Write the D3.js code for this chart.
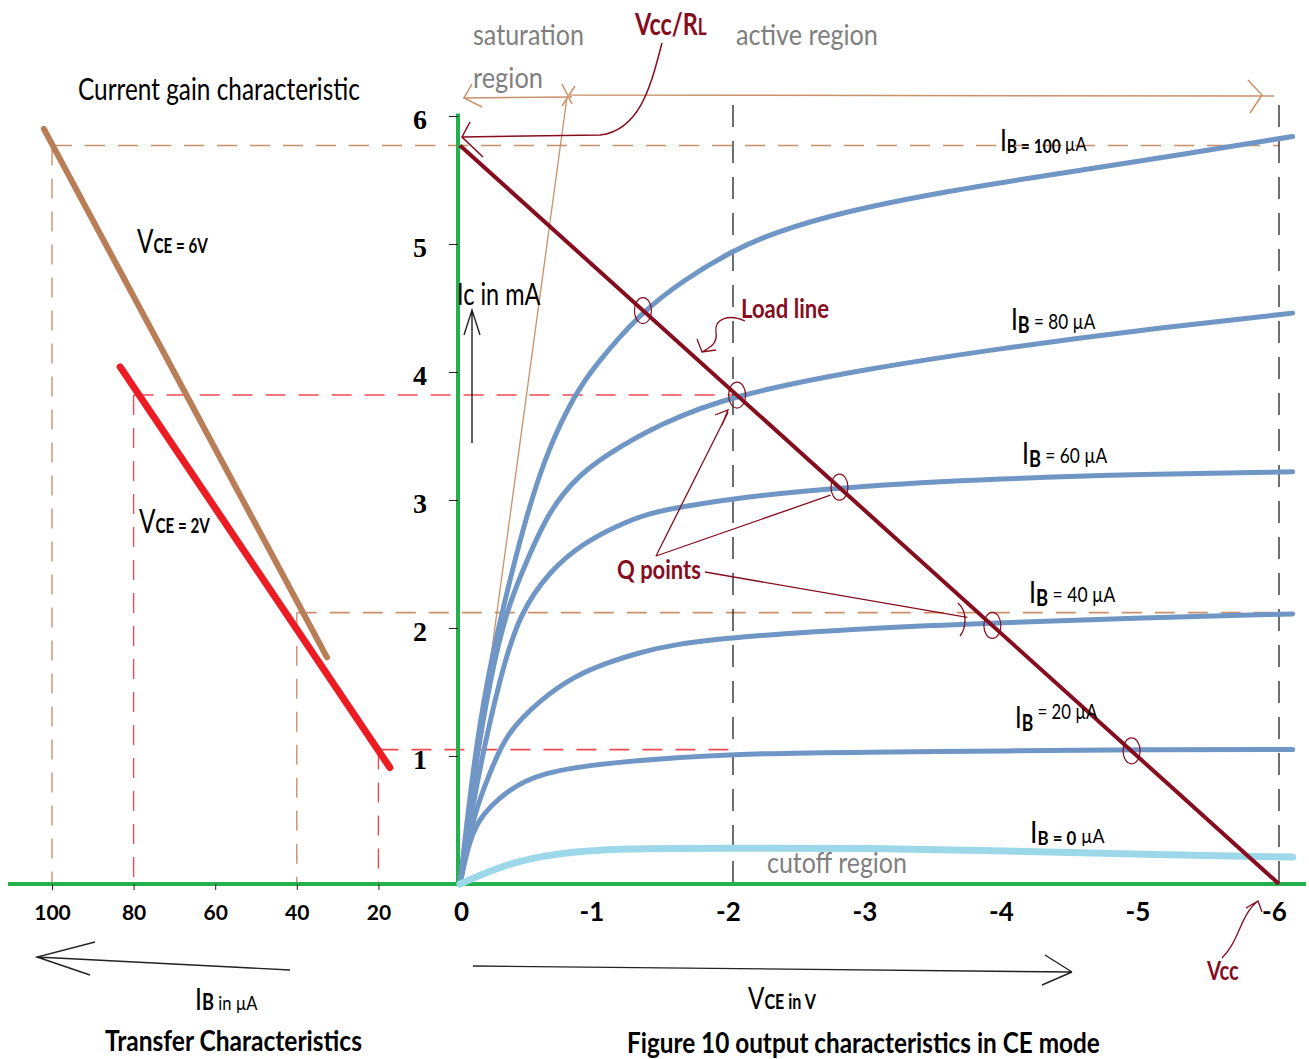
<!DOCTYPE html>
<html>
<head>
<meta charset="utf-8">
<script src="https://cdn.jsdelivr.net/npm/d3@7"></script>
<style>
body { margin: 0; background: #fff; }
svg { font-family: Lato, "Open Sans", sans-serif; }
</style>
</head>
<body>
<script>
//Define data
var vceTicks = [0, -1, -2, -3, -4, -5, -6];
var icTicks = [1, 2, 3, 4, 5, 6];
var ibTicks = [100, 80, 60, 40, 20];

//Output characteristics, [VCE, Ic] per base current
var ibLevels = [100, 80, 60, 40, 20, 0];
var curveIb100 = [[0, 0], [-0.1, 0.95], [-0.2, 1.6], [-0.31, 2.14], [-0.49, 2.9], [-0.65, 3.41], [-0.84, 3.82], [-0.98, 4.04], [-1.32, 4.46], [-1.64, 4.72], [-2, 4.95], [-2.3, 5.09], [-2.8, 5.25], [-3.5, 5.4], [-4.2, 5.52], [-5, 5.65], [-6.1, 5.84]];
var curveIb80 = [[0, 0], [-0.1, 0.85], [-0.22, 1.6], [-0.34, 2.14], [-0.49, 2.53], [-0.66, 2.93], [-0.86, 3.18], [-1.05, 3.34], [-1.47, 3.6], [-2, 3.82], [-3, 4.03], [-4, 4.19], [-5, 4.33], [-6.1, 4.46]];
var curveIb60 = [[0, 0], [-0.12, 0.8], [-0.3, 1.65], [-0.44, 2.12], [-0.66, 2.45], [-0.9, 2.66], [-1.15, 2.8], [-1.39, 2.9], [-1.64, 2.95], [-2.05, 3.02], [-2.78, 3.1], [-4, 3.17], [-5, 3.2], [-6.1, 3.22]];
var curveIb40 = [[0, 0], [-0.1, 0.55], [-0.22, 0.87], [-0.34, 1.18], [-0.59, 1.44], [-0.83, 1.62], [-1.08, 1.73], [-1.32, 1.81], [-1.56, 1.87], [-2, 1.93], [-3, 2.0], [-3.9, 2.04], [-5, 2.08], [-6.1, 2.11]];
var curveIb20 = [[0, 0], [-0.05, 0.25], [-0.12, 0.5], [-0.34, 0.73], [-0.59, 0.87], [-1.08, 0.95], [-2, 1.02], [-3, 1.03], [-4, 1.04], [-5, 1.05], [-6.1, 1.05]];
var curveIb0 = [[0, 0], [-0.34, 0.16], [-0.7, 0.24], [-1.17, 0.28], [-2, 0.28], [-3, 0.28], [-4, 0.26], [-5, 0.23], [-6.1, 0.21]];
var curves = [curveIb100, curveIb80, curveIb60, curveIb40, curveIb20, curveIb0];

//Load line and Q points
var loadLine = [[0, 5.77], [-6, 0]];
var qVce = [-1.34, -2.03, -2.78, -3.9, -4.92];
var qIc = [4.48, 3.82, 3.1, 2.02, 1.04];

//Transfer characteristics, [IB, Ic]
var transferVce6 = [[102, 5.9], [32.6, 1.77]];
var transferVce2 = [[83.3, 4.04], [17.2, 0.91]];

//Projection guides between the two graphs
var projIb = [100, 80, 40, 20];
var projIc = [5.77, 3.82, 2.12, 1.05];
var projVce = [-6, -2, -6, -2];
var guideVce = [-2, -6];

//Define colors
var green = "#22b14c", blue = "#7096c6", lightBlue = "#9dd8ea", maroon = "#860d1f",
    brown = "#b97e58", brownDash = "#c9916b", red = "#ec1c24", redDash = "#f04a55", gray = "#7f7f7f";

//Define SVG
var svg = d3.select("body").append("svg")
    .attr("width", 1309)
    .attr("height", 1059);

//Define scales
var x = d3.scaleLinear().domain([0, -6]).range([460, 1279]);
var y = d3.scaleLinear().domain([0, 6]).range([884, 116]);
var xb = d3.scaleLinear().domain([0, 100]).range([460, 52]);

var line = d3.line()
    .x(function(d) { return x(d[0]); })
    .y(function(d) { return y(d[1]); })
    .curve(d3.curveBasis);

var lineB = d3.line()
    .x(function(d) { return xb(d[0]); })
    .y(function(d) { return y(d[1]); });

//Projection dashed lines
projIb.forEach(function(ib, i) {
  var c = i % 2 === 0 ? brownDash : redDash;
  svg.append("line")
      .attr("x1", xb(ib)).attr("x2", x(projVce[i]))
      .attr("y1", y(projIc[i])).attr("y2", y(projIc[i]))
      .attr("stroke", c).attr("stroke-width", 1.6).attr("stroke-dasharray", "20,13");
  svg.append("line")
      .attr("x1", xb(ib)).attr("x2", xb(ib))
      .attr("y1", y(projIc[i])).attr("y2", y(0))
      .attr("stroke", c).attr("stroke-width", 1.4).attr("stroke-dasharray", "20,13");
});

//Black dashed VCE guides
guideVce.forEach(function(v) {
  svg.append("line")
      .attr("x1", x(v)).attr("x2", x(v))
      .attr("y1", 105).attr("y2", y(0))
      .attr("stroke", "#222").attr("stroke-width", 1.3).attr("stroke-dasharray", "22,14");
});

//Green axes
svg.append("line")
    .attr("x1", 8).attr("x2", 1306).attr("y1", y(0)).attr("y2", y(0))
    .attr("stroke", green).attr("stroke-width", 4);
svg.append("line")
    .attr("x1", x(0) - 2).attr("x2", x(0) - 2).attr("y1", y(6.02)).attr("y2", y(0))
    .attr("stroke", green).attr("stroke-width", 4);

//Saturation boundary and region arrows
svg.append("line")
    .attr("x1", 567).attr("y1", 97).attr("x2", x(0)).attr("y2", y(0))
    .attr("stroke", brownDash).attr("stroke-width", 1.3);
svg.append("path")
    .attr("d", "M463,98 L572,97 M472,84 L464,98 L482,107 M562,84 L572,104 M575,86 L562,106 M567,95 L1274,96 M1248,80 L1262,95 L1250,113")
    .attr("fill", "none").attr("stroke", brownDash).attr("stroke-width", 1.5);

//Output curves
svg.append("g").selectAll("path")
    .data(curves)
    .enter().append("path")
    .attr("d", line)
    .attr("fill", "none")
    .attr("stroke", function(d, i) { return ibLevels[i] === 0 ? lightBlue : blue; })
    .attr("stroke-width", function(d, i) { return ibLevels[i] === 0 ? 7 : 5; })
    .attr("stroke-linecap", "round");

//Load line
svg.append("path")
    .attr("d", d3.line().x(function(d) { return x(d[0]); }).y(function(d) { return y(d[1]); })(loadLine))
    .attr("stroke", maroon).attr("stroke-width", 4).attr("fill", "none");

//Transfer characteristic lines
svg.append("path").attr("d", lineB(transferVce6))
    .attr("stroke", brown).attr("stroke-width", 6).attr("stroke-linecap", "round");
svg.append("path").attr("d", lineB(transferVce2))
    .attr("stroke", red).attr("stroke-width", 7).attr("stroke-linecap", "round");

//Q points
svg.append("g").selectAll("ellipse")
    .data(qVce)
    .enter().append("ellipse")
    .attr("cx", function(d) { return x(d); })
    .attr("cy", function(d, i) { return y(qIc[i]); })
    .attr("rx", 8.5).attr("ry", 13)
    .attr("fill", "none").attr("stroke", maroon).attr("stroke-width", 1.2);

//Annotation arrows
var thin = function(d, w) {
  svg.append("path").attr("d", d).attr("fill", "none")
      .attr("stroke", maroon).attr("stroke-width", w || 1.3);
};
thin("M662,43 C652,80 642,130 600,135 L462,137 M470,122 L462,137 L483,157", 1.5);
thin("M745,321 C730,314 714,318 716,332 C718,345 708,348 702,352 M697,339 L702,352 L716,350");
thin("M656,556 L" + (x(qVce[1]) - 9) + "," + (y(qIc[1]) + 17));
thin("M656,556 L" + (x(qVce[2]) - 9) + "," + (y(qIc[2]) + 8));
thin("M705,572 L" + (x(qVce[3]) - 25) + "," + (y(qIc[3]) - 8));
thin("M715,415 L728,410 L722,425 M958,603 C968,612 966,628 960,636");
thin("M1222,958 C1240,940 1240,915 1258,901 M1246,908 L1258,901 L1262,912");

//Black arrows
svg.append("path")
    .attr("d", "M290,970 L37,957 M95,942 L37,957 L90,975 M473,966 L1072,972 M1045,955 L1072,972 M1072,972 L1042,985 M472,443 L472,310 M464,335 L472,310 L480,335")
    .attr("fill", "none").attr("stroke", "#222").attr("stroke-width", 1.4);

//Axes
var xAxis = d3.axisBottom(x).tickValues(vceTicks).tickSize(0).tickPadding(19)
    .tickFormat(function(d) { return d === 0 ? "0" : "-" + Math.abs(d); });
svg.append("g").attr("transform", "translate(0," + y(0) + ")").call(xAxis)
    .call(function(g) { g.select(".domain").remove(); })
    .selectAll("text")
    .attr("dx", function(d) { return d === 0 ? 1 : -5; })
    .style("font-family", "Lato").style("font-size", "26px").style("font-weight", "bold").attr("fill", "#000");

var yAxis = d3.axisLeft(y).tickValues(icTicks).tickSize(9).tickPadding(22).tickFormat(d3.format("d"));
svg.append("g").attr("transform", "translate(" + (x(0) - 2) + ",0)").call(yAxis)
    .call(function(g) { g.select(".domain").remove(); g.selectAll("line").attr("stroke", "#222"); })
    .selectAll("text")
    .attr("dy", "0.45em")
    .style("font-family", "'Liberation Serif', serif").style("font-size", "28px").style("font-weight", "bold").attr("fill", "#000");

var bAxis = d3.axisBottom(xb).tickValues(ibTicks).tickSize(6).tickPadding(15);
svg.append("g").attr("transform", "translate(0," + y(0) + ")").call(bAxis)
    .call(function(g) { g.select(".domain").remove(); g.selectAll("line").attr("stroke", "#222"); })
    .selectAll("text")
    .style("font-family", "Lato").style("font-size", "21px").style("font-weight", "bold").attr("fill", "#000");

//Labels, fitted to a width
function label(x0, y0, w, parts, fill) {
  var g = svg.append("g").attr("transform", "translate(" + x0 + "," + y0 + ")");
  var t = g.append("text").attr("fill", fill || "#000");
  parts.forEach(function(p) {
    t.append("tspan").text(p[0])
        .attr("font-size", p[1])
        .attr("font-weight", p[2] ? "bold" : "normal")
        .attr("dy", p[3] || 0);
  });
  var bw = t.node().getBBox().width;
  g.attr("transform", "translate(" + x0 + "," + y0 + ") scale(" + (w / bw) + ",1)");
}

label(78, 100, 282, [["Current gain characteristic", 30]]);
label(473, 45, 111, [["saturation", 29]], gray);
label(473, 88, 70, [["region", 29]], gray);
label(635, 35, 73, [["Vcc/R", 30, true], ["L", 22, true]], maroon);
label(736, 45, 142, [["active region", 29]], gray);
label(457, 305, 84, [["Ic in mA", 30]]);
label(741, 318, 88, [["Load line", 27, true]], maroon);
label(617, 579, 84, [["Q points", 27, true]], maroon);
label(767, 873, 140, [["cutoff region", 29]], gray);
label(1207, 980, 33, [["Vcc", 26, true]], maroon);
label(137, 253, 71, [["V", 32], ["CE = 6V", 20, true]]);
label(139, 533, 71, [["V", 32], ["CE = 2V", 20, true]]);
label(195, 1010, 63, [["I", 30], ["B", 22, true], [" in µA", 20]]);
label(105, 1051, 257, [["Transfer Characteristics", 29, true]]);
label(748, 1009, 68, [["V", 30], ["CE in V", 20, true]]);
label(627, 1053, 473, [["Figure 10 output characteristics in CE mode", 29, true]]);

//IB curve labels
var ibLabelPos = [[1000, 151, 87], [1011, 330, 85], [1022, 464, 86], [1029, 603, 87], [1015, 728, 83], [1030, 843, 75]];
ibLevels.forEach(function(ib, i) {
  var p = ibLabelPos[i];
  var parts;
  if (ib === 100 || ib === 0) parts = [["I", 30], ["B = " + ib, 19, true, 2], ["  µA", 20, false, -2]];
  else if (ib === 20) parts = [["I", 30], ["B", 22, true, 3], [" = " + ib + " µA", 21, false, -12]];
  else parts = [["I", 30], ["B", 22, true, 3], ["  = " + ib + " µA", 21, false, -4]];
  label(p[0], p[1], p[2], parts);
});
</script>
</body>
</html>
